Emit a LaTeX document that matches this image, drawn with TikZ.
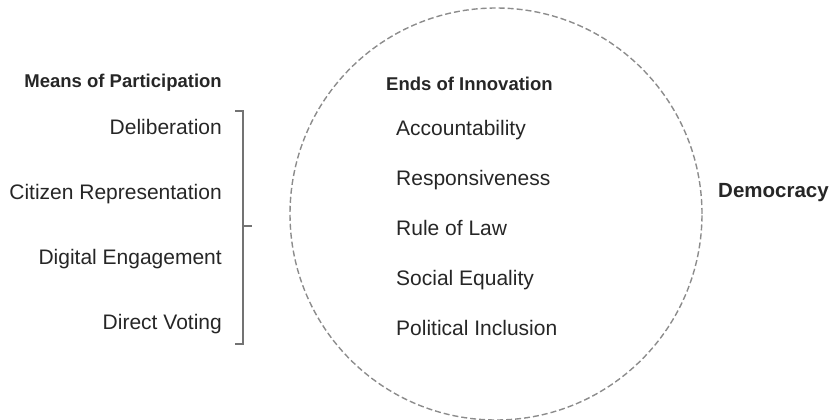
\documentclass[tikz,border=0pt]{standalone}
\usepackage{fontspec}
\setmainfont{Liberation Sans}
\begin{document}
\begin{tikzpicture}[x=1pt,y=-1pt,
  itemtext/.style={font=\fontsize{21}{25}\selectfont, text=black!85, inner sep=0pt},
  headtext/.style={font=\fontsize{18.5}{22}\selectfont\bfseries, text=black!85, inner sep=0pt},
  bracketline/.style={draw=black!55, line width=1.1pt},
  ringline/.style={draw=black!45, line width=1.4pt, dash pattern=on 6pt off 3pt}]
\useasboundingbox (0,0) rectangle (835,420);

% means of participation (left column)
\node[headtext, anchor=base east] (means) at (222,87) {Means of Participation};
\node[itemtext, anchor=base east] (delib) at (222,134) {Deliberation};
\node[itemtext, anchor=base east] (citizen) at (222,199) {Citizen Representation};
\node[itemtext, anchor=base east] (digital) at (222,264) {Digital Engagement};
\node[itemtext, anchor=base east] (direct) at (222,329) {Direct Voting};

% grouping bracket
\coordinate (btop) at (243,111);
\coordinate (bbot) at (243,344);
\coordinate (bmid) at (243,226);
\draw[bracketline] ([xshift=-8pt]btop) -- (btop) -- (bbot) -- ([xshift=-8pt]bbot);
\draw[bracketline] (bmid) -- ([xshift=9pt]bmid);

% ends of innovation (dashed ring)
\node[ringline, circle, minimum size=412pt, inner sep=0pt] (ring) at (496,214) {};
\node[headtext, anchor=base west] (ends) at (386,90) {Ends of Innovation};
\node[itemtext, anchor=base west] (acc) at (396,135) {Accountability};
\node[itemtext, anchor=base west] (resp) at (396,185) {Responsiveness};
\node[itemtext, anchor=base west] (law) at (396,235) {Rule of Law};
\node[itemtext, anchor=base west] (equal) at (396,285) {Social Equality};
\node[itemtext, anchor=base west] (incl) at (396,335) {Political Inclusion};

% outcome
\node[font=\fontsize{20.5}{24}\selectfont\bfseries, text=black!85, inner sep=0pt, anchor=base west] (demo) at (718,197) {Democracy};
\end{tikzpicture}
\end{document}
